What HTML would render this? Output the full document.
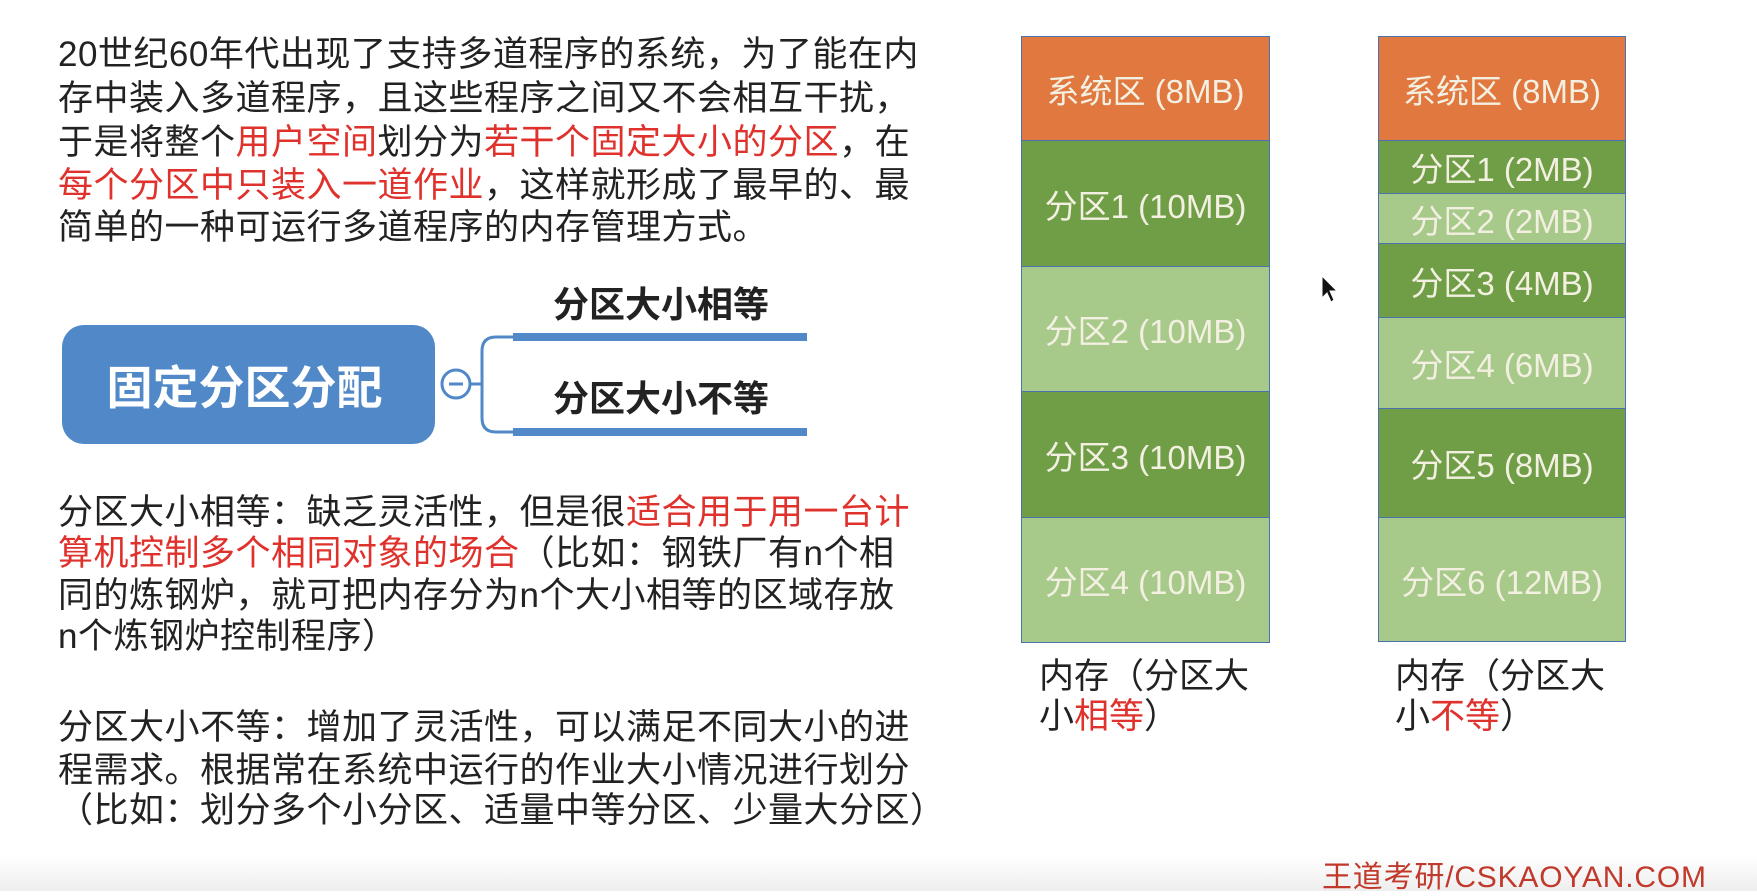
<!DOCTYPE html>
<html><head><meta charset="utf-8"><style>
body{margin:0;width:1757px;height:891px;background:#fff;position:relative;overflow:hidden;font-family:"Liberation Sans","Noto Sans CJK SC",sans-serif;color:#222}
.l{position:absolute;left:58px;font-size:35px;white-space:nowrap;line-height:44px;letter-spacing:0.5px}
.r{color:#e0322d}
.c{position:absolute;display:flex;align-items:center;justify-content:center;color:#f3f0e2;font-size:33px;box-sizing:border-box;border-bottom:1.5px solid #4a72b0;border-left:1.5px solid #4a72b0;border-right:1.5px solid #4a72b0}
.o{background:#e07840}.d{background:#6f9e47}.g{background:#a7c98a}
.cap{position:absolute;font-size:35px;line-height:40px;white-space:nowrap}
</style></head><body>
<div class="l" style="top:33px">20世纪60年代出现了支持多道程序的系统，为了能在内</div>
<div class="l" style="top:77px">存中装入多道程序，且这些程序之间又不会相互干扰，</div>
<div class="l" style="top:121px">于是将整个<span class="r">用户空间</span>划分为<span class="r">若干个固定大小的分区</span>，在</div>
<div class="l" style="top:164px"><span class="r">每个分区中只装入一道作业</span>，这样就形成了最早的、最</div>
<div class="l" style="top:206px">简单的一种可运行多道程序的内存管理方式。</div>

<div style="position:absolute;left:62px;top:325px;width:373px;height:119px;background:#5088c8;border-radius:22px;color:#fff;font-weight:bold;font-size:46px;display:flex;align-items:center;justify-content:center;padding-right:8px;box-sizing:border-box">固定分区分配</div>
<svg style="position:absolute;left:0;top:0" width="1757" height="891">
<circle cx="456" cy="384" r="14" fill="#fff" stroke="#5088c8" stroke-width="3"/>
<line x1="449" y1="384" x2="463" y2="384" stroke="#5088c8" stroke-width="3"/>
<line x1="470" y1="384" x2="482" y2="384" stroke="#5088c8" stroke-width="3"/>
<path d="M513 337 H496 Q482 337 482 351 V418 Q482 432 496 432 H513" fill="none" stroke="#5088c8" stroke-width="3"/>
<rect x="513" y="333" width="294" height="8" fill="#5088c8"/>
<rect x="513" y="428" width="294" height="8" fill="#5088c8"/>
<path d="M1322 276 L1322 298 L1327 293 L1331 302 L1334 300 L1330 291 L1337 291 Z" fill="#111" stroke="#fff" stroke-width="1"/>
</svg>
<div class="cap" style="left:553px;top:285px;font-weight:bold;font-size:36px">分区大小相等</div>
<div class="cap" style="left:553px;top:379px;font-weight:bold;font-size:36px">分区大小不等</div>

<div class="l" style="top:491px">分区大小相等：缺乏灵活性，但是很<span class="r">适合用于用一台计</span></div>
<div class="l" style="top:532px"><span class="r">算机控制多个相同对象的场合</span>（比如：钢铁厂有n个相</div>
<div class="l" style="top:574px">同的炼钢炉，就可把内存分为n个大小相等的区域存放</div>
<div class="l" style="top:615px">n个炼钢炉控制程序）</div>
<div class="l" style="top:706px">分区大小不等：增加了灵活性，可以满足不同大小的进</div>
<div class="l" style="top:749px">程需求。根据常在系统中运行的作业大小情况进行划分</div>
<div class="l" style="top:789px">（比如：划分多个小分区、适量中等分区、少量大分区）</div>

<div class="c o" style="left:1021px;top:36px;width:249px;height:105px;border-top:1.5px solid #4a72b0">系统区 (8MB)</div>
<div class="c d" style="left:1021px;top:141px;width:249px;height:126px">分区1 (10MB)</div>
<div class="c g" style="left:1021px;top:267px;width:249px;height:125px">分区2 (10MB)</div>
<div class="c d" style="left:1021px;top:392px;width:249px;height:126px">分区3 (10MB)</div>
<div class="c g" style="left:1021px;top:518px;width:249px;height:125px">分区4 (10MB)</div>

<div class="c o" style="left:1378px;top:36px;width:248px;height:105px;border-top:1.5px solid #4a72b0">系统区 (8MB)</div>
<div class="c d" style="left:1378px;top:141px;width:248px;height:53px">分区1 (2MB)</div>
<div class="c g" style="left:1378px;top:194px;width:248px;height:50px">分区2 (2MB)</div>
<div class="c d" style="left:1378px;top:244px;width:248px;height:74px">分区3 (4MB)</div>
<div class="c g" style="left:1378px;top:318px;width:248px;height:91px">分区4 (6MB)</div>
<div class="c d" style="left:1378px;top:409px;width:248px;height:109px">分区5 (8MB)</div>
<div class="c g" style="left:1378px;top:518px;width:248px;height:124px">分区6 (12MB)</div>

<div class="cap" style="left:1039px;top:657px">内存（分区大<br>小<span class="r">相等</span>）</div>
<div class="cap" style="left:1395px;top:657px">内存（分区大<br>小<span class="r">不等</span>）</div>

<div style="position:absolute;left:0;top:855px;width:1757px;height:36px;background:linear-gradient(#fff,#eee)"></div>
<div style="position:absolute;left:1322px;top:852px;font-size:30px;color:#c0392b;white-space:nowrap;letter-spacing:0.8px">王道考研/CSKAOYAN.COM</div>
</body></html>
